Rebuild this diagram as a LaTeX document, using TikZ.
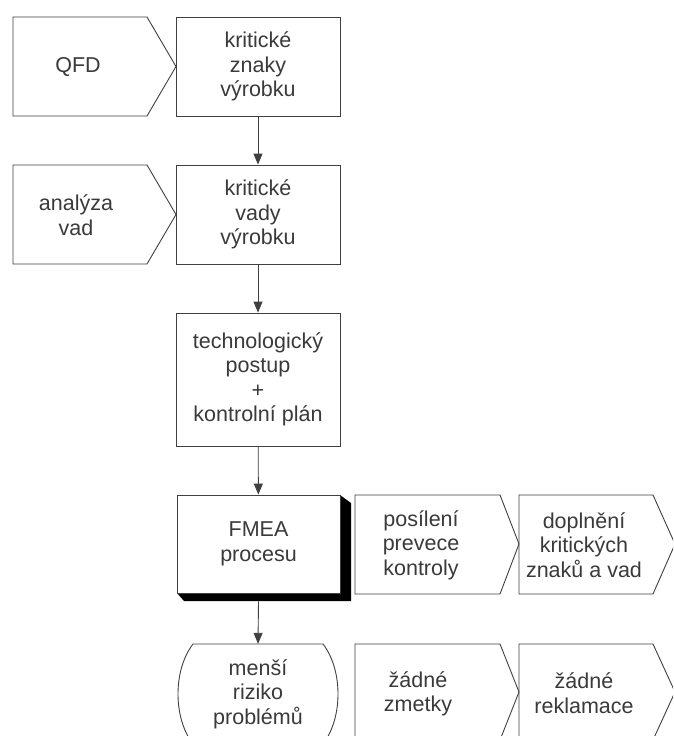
\documentclass[tikz,border=0pt]{standalone}
\usepackage{fontspec}
\setmainfont{Liberation Sans}
\usetikzlibrary{arrows.meta}
\definecolor{linegray}{HTML}{404040}
\definecolor{textgray}{HTML}{3A3A3A}
\tikzset{
  outline/.style={draw=linegray, line width=0.9pt, line join=miter},
  label/.style={text=textgray, align=center, inner sep=0pt,
    font=\fontsize{21.5}{24.5}\selectfont},
  box/.style={outline, fill=white, label, minimum width=164pt, minimum height=99pt},
  flow/.style={draw=linegray, line width=0.9pt, -{Triangle[length=11pt,width=9pt]}},
}
\begin{document}
\begin{tikzpicture}[x=1pt, y=-1pt]
\useasboundingbox (0,0) rectangle (673,736);
\clip (0,0) rectangle (673,736);
\fill[white] (0,0) rectangle (673,736);

% main column
\node[box] (znaky) at (258,66.5) {kritické\\znaky\\výrobku};
\node[box] (vady) at (258,214.5) {kritické\\vady\\výrobku};
\node[box, minimum height=133pt] (postup) at (258,379.5) {technologický\\postup\\+\\kontrolní plán};

% FMEA box with its solid shadow
\fill[black] (340,495) -- (351,503) -- (351,601) -- (184,601) -- (177,593) -- (340,593) -- cycle;
\node[box, minimum width=163pt, minimum height=98pt] (fmea) at (258.5,544) {FMEA\\procesu};

% terminal with bulging sides
\draw[outline] (193,644) -- (323,644)
  .. controls (343,670) and (343,718) .. (323,744) -- (193,744)
  .. controls (173,718) and (173,670) .. (193,644) -- cycle;
\node[label, minimum width=164pt, minimum height=100pt] (riziko) at (258,694) {menší\\riziko\\problémů};

% inputs on the left
\draw[outline] (13,17) -- (147,17) -- (176,66.5) -- (147,116) -- (13,116) -- cycle;
\node[label] (qfd) at (78,67) {QFD};
\draw[outline] (13,165) -- (147,165) -- (176,214.5) -- (147,264) -- (13,264) -- cycle;
\node[label] (analyza) at (76,215) {analýza\\vad};

% outcomes on the right
\draw[outline] (355,495) -- (500,495) -- (519,544) -- (500,594) -- (355,594) -- cycle;
\node[label] (posileni) at (421,545) {posílení\\prevece\\kontroly};
\draw[outline] (519,495) -- (653,495) -- (675,544) -- (653,594) -- (519,594) -- cycle;
\node[label] (doplneni) at (584,545) {doplnění\\kritických\\znaků a vad};
\draw[outline] (355,644) -- (500,644) -- (519,692) -- (500,740) -- (355,740) -- cycle;
\node[label] (zmetky) at (418,694) {žádné\\zmetky};
\draw[outline] (519,644) -- (653,644) -- (675,692) -- (653,740) -- (519,740) -- cycle;
\node[label] (reklamace) at (584,693) {žádné\\reklamace};

% flow arrows
\draw[flow] (znaky) -- (vady);
\draw[flow] (vady) -- (postup);
\draw[flow] (postup) -- (fmea);
\draw[flow] (fmea.south) ++(0,8) -- (riziko.north);
\end{tikzpicture}
\end{document}
